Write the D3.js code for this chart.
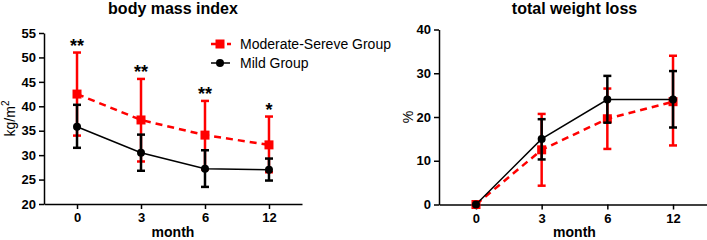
<!DOCTYPE html>
<html><head><meta charset="utf-8">
<script src="https://cdn.jsdelivr.net/npm/d3@7/dist/d3.min.js"></script>
<style>
body{margin:0;background:#fff;}
svg{display:block;font-family:"Liberation Sans",Arial,sans-serif;}
.axis path,.axis line{stroke:#000;stroke-width:1.5;}
.axis text{font-weight:bold;font-size:13px;fill:#000;}
</style></head><body>
<svg id="c" width="707" height="240"></svg>
<script>
const months = ["0","3","6","12"];
const seriesNames = ["Moderate-Sereve Group","Mild Group"];
// body mass index
const bmiSevere = [42.5, 37.2, 34.1, 32.1];
const bmiSevereHi = [51.0, 45.6, 41.1, 37.9];
const bmiSevereLo = [34.0, 28.7, 27.1, 26.5];
const bmiMild = [35.8, 30.5, 27.2, 27.0];
const bmiMildHi = [40.3, 34.2, 31.0, 29.3];
const bmiMildLo = [31.5, 26.8, 23.5, 24.8];
const bmiStars = ["**","**","**","*"];
const bmiTicks = [20,25,30,35,40,45,50,55];
// total weight loss
const twlSevere = [0, 12.5, 19.6, 23.5];
const twlSevereHi = [0, 20.7, 26.5, 34.0];
const twlSevereLo = [0, 4.3, 12.7, 13.5];
const twlMild = [0, 15.0, 24.0, 24.0];
const twlMildHi = [0, 19.5, 29.4, 30.5];
const twlMildLo = [0, 10.3, 18.7, 17.6];
const twlTicks = [0,10,20,30,40];

const svg = d3.select("#c");
const RED = "#ff0000", BLK = "#000";

function panel(cfg){
  const g = svg.append("g");
  const x = d3.scalePoint().domain(months).range(cfg.xr).padding(cfg.pad);
  const y = d3.scaleLinear().domain(cfg.yd).range(cfg.yr);
  g.append("g").attr("class","axis").attr("transform",`translate(${cfg.xr[0]},0)`)
    .call(d3.axisLeft(y).tickValues(cfg.ticks).tickSize(5).tickPadding(3).tickSizeOuter(0));
  g.append("g").attr("class","axis").attr("transform",`translate(0,${cfg.yr[0]})`)
    .call(d3.axisBottom(x).tickSize(5).tickPadding(4).tickSizeOuter(0));
  g.append("text").attr("x",(cfg.xr[0]+cfg.xr[1])/2 + cfg.titleDx).attr("y",14)
    .attr("text-anchor","middle").attr("font-weight","bold").attr("font-size",16).text(cfg.title);
  g.append("text").attr("x",(cfg.xr[0]+cfg.xr[1])/2 + cfg.titleDx).attr("y",237)
    .attr("text-anchor","middle").attr("font-weight","bold").attr("font-size",14).text("month");
  const yl = g.append("text").attr("transform",`translate(${cfg.ylx},${(cfg.yr[0]+cfg.yr[1])/2}) rotate(-90)`)
    .attr("text-anchor","middle").attr("font-size",14);
  yl.append("tspan").text(cfg.ylabel);
  if(cfg.sup) yl.append("tspan").attr("dy",-6).attr("font-size",10).text(cfg.sup);

  const series = [
    {v:cfg.sev, hi:cfg.sevHi, lo:cfg.sevLo, c:RED, dash:"7,5", w:2.5, m:"sq"},
    {v:cfg.mild, hi:cfg.mildHi, lo:cfg.mildLo, c:BLK, dash:null, w:1.5, m:"ci"}
  ];
  series.forEach(s=>{
    const sg = g.append("g");
    months.forEach((m,i)=>{
      if(s.hi[i]===s.lo[i]) return;
      const cx = x(m);
      sg.append("line").attr("x1",cx).attr("x2",cx).attr("y1",y(s.hi[i])).attr("y2",y(s.lo[i]))
        .attr("stroke",s.c).attr("stroke-width",2.5);
      [s.hi[i],s.lo[i]].forEach(v=>sg.append("line").attr("x1",cx-4).attr("x2",cx+4)
        .attr("y1",y(v)).attr("y2",y(v)).attr("stroke",s.c).attr("stroke-width",2.5));
    });
    sg.append("path").datum(s.v).attr("fill","none").attr("stroke",s.c).attr("stroke-width",s.w)
      .attr("stroke-dasharray",s.dash)
      .attr("d",d3.line().x((d,i)=>x(months[i])).y(d=>y(d)));
    months.forEach((m,i)=>{
      if(s.m==="sq") sg.append("rect").attr("x",x(m)-4.5).attr("y",y(s.v[i])-4.5).attr("width",9).attr("height",9).attr("fill",s.c);
      else sg.append("circle").attr("cx",x(m)).attr("cy",y(s.v[i])).attr("r",4).attr("fill",s.c);
    });
  });
  if(cfg.stars){
    months.forEach((m,i)=>{
      g.append("text").attr("x",x(m)).attr("y",y(cfg.sevHi[i])-1).attr("text-anchor","middle")
        .attr("font-size",18).attr("font-weight","bold").text(cfg.stars[i]);
    });
  }
  return g;
}

panel({xr:[44,302], pad:0.516, yd:[20,55], yr:[204,33], ticks:bmiTicks, title:"body mass index", titleDx:0,
  ylabel:"kg/m", sup:"2", ylx:15, sev:bmiSevere, sevHi:bmiSevereHi, sevLo:bmiSevereLo,
  mild:bmiMild, mildHi:bmiMildHi, mildLo:bmiMildLo, stars:bmiStars});
panel({xr:[439,710], pad:0.563, yd:[0,40], yr:[204.5,29.5], ticks:twlTicks, title:"total weight loss", titleDx:0,
  ylabel:"%", ylx:413, sev:twlSevere, sevHi:twlSevereHi, sevLo:twlSevereLo,
  mild:twlMild, mildHi:twlMildHi, mildLo:twlMildLo});

// legend
const lg = svg.append("g");
lg.append("line").attr("x1",211).attr("x2",231).attr("y1",44).attr("y2",44).attr("stroke",RED)
  .attr("stroke-width",2.5).attr("stroke-dasharray","5,3");
lg.append("rect").attr("x",215.5).attr("y",39.5).attr("width",9).attr("height",9).attr("fill",RED);
lg.append("text").attr("x",240).attr("y",49).attr("font-size",14).text(seriesNames[0]);
lg.append("line").attr("x1",211).attr("x2",230).attr("y1",63).attr("y2",63).attr("stroke",BLK).attr("stroke-width",1.5);
lg.append("circle").attr("cx",220).attr("cy",63).attr("r",4).attr("fill",BLK);
lg.append("text").attr("x",240).attr("y",68).attr("font-size",14).text(seriesNames[1]);
</script></body></html>
